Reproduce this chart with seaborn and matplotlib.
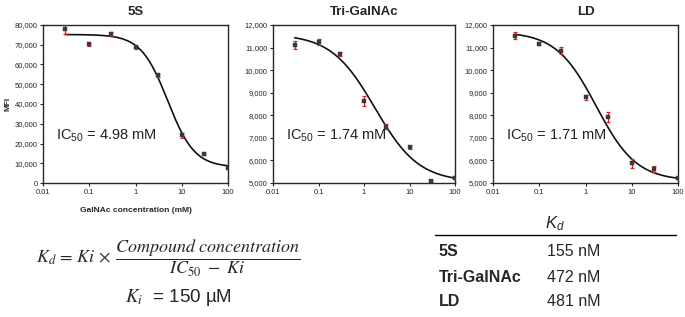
import numpy as np
import pandas as pd
import matplotlib
matplotlib.use("Agg")
import matplotlib.pyplot as plt
import seaborn as sns
from matplotlib.ticker import FixedLocator, FuncFormatter

sns.set_style("ticks")
plt.rcParams['font.family'] = ['Liberation Sans', 'DejaVu Sans']
plt.rcParams['mathtext.fontset'] = 'stix'
plt.rcParams['mathtext.rm'] = 'Liberation Sans'
plt.rcParams['mathtext.it'] = 'Liberation Sans:italic'
plt.rcParams['mathtext.bf'] = 'Liberation Sans:bold'

# data
conc = [0.03, 0.1, 0.3, 1, 3, 10, 30, 100]

mfi_5s = [78000, 70200, 75500, 68800, 54500, 24200, 14500, 7800]
err_5s = [2600, 600, 1200, 700, 600, 1200, 500, 300]

mfi_tri = [11100, 11250, 10700, 8650, 7500, 6580, 5080, 5230]
err_tri = [180, 120, 90, 220, 120, 80, 50, 50]

mfi_ld = [11520, 11180, 10870, 8800, 7930, 5880, 5620, 5220]
err_ld = [160, 70, 140, 120, 230, 200, 120, 60]

# fitted 4PL parameters: top, bottom, IC50 (mM), hill slope
fit_5s = (75200, 8000, 4.98, 1.5)
fit_tri = (11600, 5050, 1.74, 0.9)
fit_ld = (11700, 5100, 1.71, 1.0)

titles = ["5S", "Tri-GalNAc", "LD"]
ic50_labels = [r"IC$_{\mathrm{50}}$ = 4.98 mM", r"IC$_{\mathrm{50}}$ = 1.74 mM",
               r"IC$_{\mathrm{50}}$ = 1.71 mM"]

kd_names = ["5S", "Tri-GalNAc", "LD"]
kd_values = ["155 nM", "472 nM", "481 nM"]

panels = [
    (mfi_5s, err_5s, fit_5s, (0, 80000), np.arange(0, 80001, 10000)),
    (mfi_tri, err_tri, fit_tri, (5000, 12000), np.arange(5000, 12001, 1000)),
    (mfi_ld, err_ld, fit_ld, (5000, 12000), np.arange(5000, 12001, 1000)),
]

W, H = 685, 317
fig = plt.figure(figsize=(W / 100, H / 100), dpi=100)

boxes = [(43, 228), (273, 455), (493, 678)]
top_px, bot_px = 25, 183

curve_x = np.logspace(np.log10(0.03), 2, 200)

for i, (vals, errs, fit, ylim, yticks) in enumerate(panels):
    l, r = boxes[i]
    ax = fig.add_axes([l / W, 1 - bot_px / H, (r - l) / W, (bot_px - top_px) / H])
    df = pd.DataFrame({"conc": conc, "mfi": vals, "err": errs})
    top, bottom, ic50, hill = fit
    curve = pd.DataFrame({"conc": curve_x,
                          "mfi": bottom + (top - bottom) / (1 + (curve_x / ic50) ** hill)})
    sns.lineplot(data=curve, x="conc", y="mfi", color="#111111", lw=1.2, ax=ax, zorder=2)
    ax.errorbar(df["conc"], df["mfi"], yerr=df["err"], fmt="none", ecolor="#e02020",
                elinewidth=0.9, capsize=1.5, capthick=0.9, zorder=3)
    sns.scatterplot(data=df, x="conc", y="mfi", marker="s", s=12, color="#3a3a3a",
                    edgecolor="#3a3a3a", linewidth=0.3, ax=ax, zorder=4)
    ax.set_xscale("log")
    ax.set_xlim(0.01, 100)
    ax.set_ylim(*ylim)
    ax.xaxis.set_major_locator(FixedLocator([0.01, 0.1, 1, 10, 100]))
    ax.xaxis.set_minor_locator(FixedLocator([]))
    ax.xaxis.set_major_formatter(FuncFormatter(lambda v, p: f"{v:g}"))
    ax.set_yticks(yticks)
    ax.yaxis.set_major_formatter(FuncFormatter(lambda v, p: f"{int(v):,}"))
    ax.tick_params(labelsize=5.5, length=2.5, width=0.8, pad=1.5)
    for s in ax.spines.values():
        s.set_linewidth(1.0)
    ax.set_xlabel("")
    ax.set_ylabel("")
    ax.set_title(titles[i], fontsize=9.5, fontweight="bold", pad=7)
    ax.text(0.07, 0.3, ic50_labels[i], transform=ax.transAxes, fontsize=10.5,
            math_fontfamily="custom", color="#222222", va="center")
    if i == 0:
        ax.set_ylabel("MFI", fontsize=6, fontweight="bold", labelpad=2)
        ax.set_xlabel("GalNAc concentration (mM)", fontsize=6, fontweight="bold", labelpad=8)

# formula
fig.text(168 / W, 1 - 258 / H,
         r"$K_d\,=\,Ki\,\times\,\dfrac{Compound\ concentration}{IC_{50}\ -\ Ki}$",
         fontsize=13, ha="center", va="center")
fig.text(178 / W, 1 - 297 / H, r"$K_i$  = 150 µM", fontsize=13.5, ha="center", va="center")

# Kd table
fig.text(555 / W, 1 - 224 / H, r"$K_d$", fontsize=12, ha="center", va="center",
         math_fontfamily="custom")
fig.add_artist(plt.Line2D([435 / W, 676 / W], [1 - 235 / H, 1 - 235 / H],
                          color="black", lw=1.0))
for j, (name, val) in enumerate(zip(kd_names, kd_values)):
    y = 1 - (252 + 25 * j) / H
    fig.text(439 / W, y, name, fontsize=11.5, fontweight="bold", va="center")
    fig.text(547 / W, y, val, fontsize=11.5, va="center")

fig.savefig("out.png", dpi=100)
